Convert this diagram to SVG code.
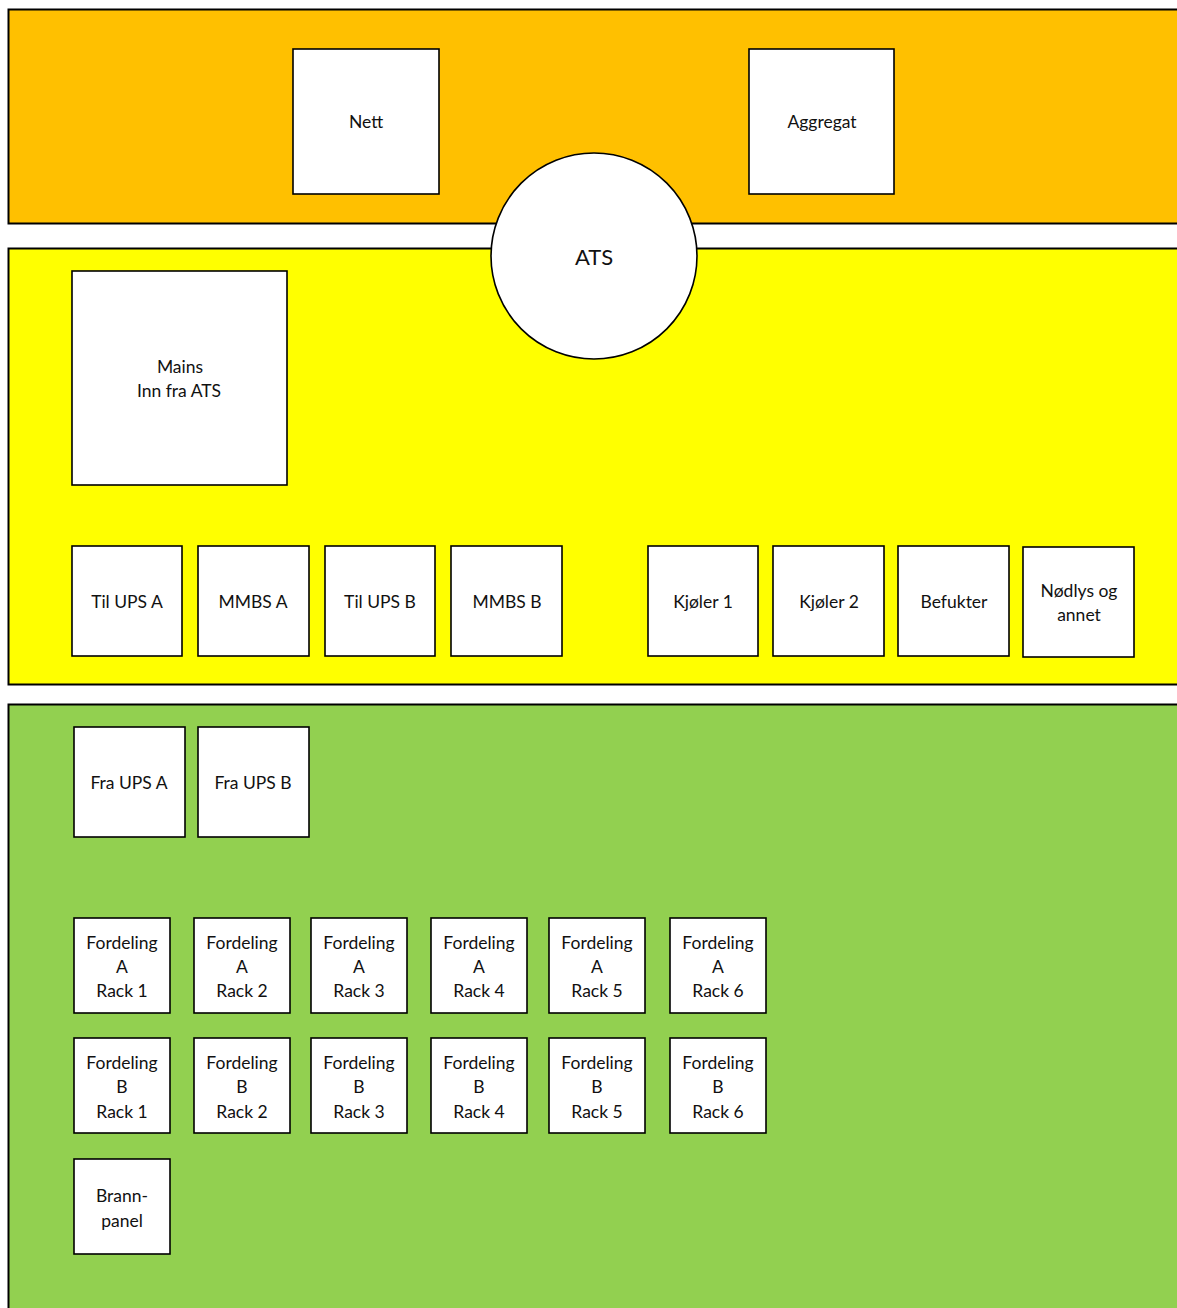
<svg xmlns="http://www.w3.org/2000/svg" width="1177" height="1308" viewBox="0 0 1177 1308">
<style>
.band{stroke:#000;stroke-width:2}
.box{fill:#fff;stroke:#000;stroke-width:1.6}
text{font-family:Lato,"Open Sans","Liberation Sans",sans-serif;font-size:17.5px;fill:#111;text-anchor:middle}
.big{font-size:22px}
</style>
<g id="band-orange"><rect class="band" x="8.5" y="9.5" width="1180" height="214" fill="#FFC000"/></g>
<g id="band-yellow"><rect class="band" x="8.5" y="248.5" width="1180" height="436" fill="#FFFF00"/></g>
<g id="band-green"><rect class="band" x="8.5" y="704.5" width="1180" height="620" fill="#92D050"/></g>
<g id="connectors"></g>
<g id="nett"><rect class="box" x="293" y="49" width="146" height="145"/><text x="366" y="128">Nett</text></g>
<g id="aggregat"><rect class="box" x="749" y="49" width="145" height="145"/><text x="822" y="128">Aggregat</text></g>
<g id="ats"><circle class="box" cx="594" cy="256" r="103"/><text class="big" x="594" y="265">ATS</text></g>
<g id="mains"><rect class="box" x="72" y="271" width="215" height="214"/><text x="180" y="373">Mains</text><text x="179" y="397">Inn fra ATS</text></g>
<g id="til-ups-a"><rect class="box" x="72" y="546" width="110" height="110"/><text x="127" y="608">Til UPS A</text></g>
<g id="mmbs-a"><rect class="box" x="198" y="546" width="111" height="110"/><text x="253" y="608">MMBS A</text></g>
<g id="til-ups-b"><rect class="box" x="325" y="546" width="110" height="110"/><text x="380" y="608">Til UPS B</text></g>
<g id="mmbs-b"><rect class="box" x="451" y="546" width="111" height="110"/><text x="507" y="608">MMBS B</text></g>
<g id="kjoler-1"><rect class="box" x="648" y="546" width="110" height="110"/><text x="703" y="608">Kjøler 1</text></g>
<g id="kjoler-2"><rect class="box" x="773" y="546" width="111" height="110"/><text x="829" y="608">Kjøler 2</text></g>
<g id="befukter"><rect class="box" x="898" y="546" width="111" height="110"/><text x="954" y="608">Befukter</text></g>
<g id="nodlys"><rect class="box" x="1023" y="547" width="111" height="110"/><text x="1079" y="597">Nødlys og</text><text x="1079" y="621">annet</text></g>
<g id="fra-ups-a"><rect class="box" x="74" y="727" width="111" height="110"/><text x="129" y="789">Fra UPS A</text></g>
<g id="fra-ups-b"><rect class="box" x="198" y="727" width="111" height="110"/><text x="253" y="789">Fra UPS B</text></g>
<g id="fa1"><rect class="box" x="74" y="918" width="96" height="95"/><text x="122" y="949">Fordeling</text><text x="122" y="973">A</text><text x="122" y="997">Rack 1</text></g>
<g id="fa2"><rect class="box" x="194" y="918" width="96" height="95"/><text x="242" y="949">Fordeling</text><text x="242" y="973">A</text><text x="242" y="997">Rack 2</text></g>
<g id="fa3"><rect class="box" x="311" y="918" width="96" height="95"/><text x="359" y="949">Fordeling</text><text x="359" y="973">A</text><text x="359" y="997">Rack 3</text></g>
<g id="fa4"><rect class="box" x="431" y="918" width="96" height="95"/><text x="479" y="949">Fordeling</text><text x="479" y="973">A</text><text x="479" y="997">Rack 4</text></g>
<g id="fa5"><rect class="box" x="549" y="918" width="96" height="95"/><text x="597" y="949">Fordeling</text><text x="597" y="973">A</text><text x="597" y="997">Rack 5</text></g>
<g id="fa6"><rect class="box" x="670" y="918" width="96" height="95"/><text x="718" y="949">Fordeling</text><text x="718" y="973">A</text><text x="718" y="997">Rack 6</text></g>
<g id="fb1"><rect class="box" x="74" y="1038" width="96" height="95"/><text x="122" y="1069">Fordeling</text><text x="122" y="1093">B</text><text x="122" y="1118">Rack 1</text></g>
<g id="fb2"><rect class="box" x="194" y="1038" width="96" height="95"/><text x="242" y="1069">Fordeling</text><text x="242" y="1093">B</text><text x="242" y="1118">Rack 2</text></g>
<g id="fb3"><rect class="box" x="311" y="1038" width="96" height="95"/><text x="359" y="1069">Fordeling</text><text x="359" y="1093">B</text><text x="359" y="1118">Rack 3</text></g>
<g id="fb4"><rect class="box" x="431" y="1038" width="96" height="95"/><text x="479" y="1069">Fordeling</text><text x="479" y="1093">B</text><text x="479" y="1118">Rack 4</text></g>
<g id="fb5"><rect class="box" x="549" y="1038" width="96" height="95"/><text x="597" y="1069">Fordeling</text><text x="597" y="1093">B</text><text x="597" y="1118">Rack 5</text></g>
<g id="fb6"><rect class="box" x="670" y="1038" width="96" height="95"/><text x="718" y="1069">Fordeling</text><text x="718" y="1093">B</text><text x="718" y="1118">Rack 6</text></g>
<g id="brannpanel"><rect class="box" x="74" y="1159" width="96" height="95"/><text x="122" y="1202">Brann-</text><text x="122" y="1227">panel</text></g>
</svg>
